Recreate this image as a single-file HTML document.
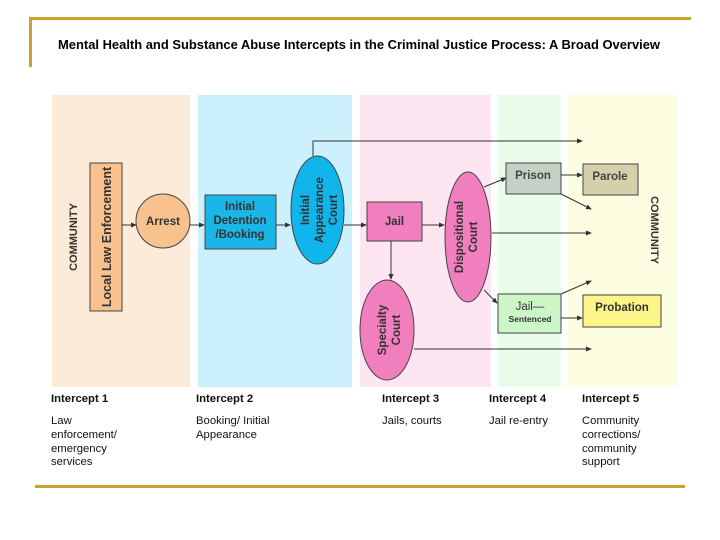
<!DOCTYPE html>
<html><head><meta charset="utf-8"><style>
html,body{margin:0;padding:0;background:#fff;}
svg{display:block;font-family:"Liberation Sans",Arial,sans-serif;}
</style></head><body>
<svg width="720" height="540" viewBox="0 0 720 540" xmlns="http://www.w3.org/2000/svg">
<defs><marker id="a" markerWidth="6" markerHeight="6" refX="5" refY="3" orient="auto" markerUnits="userSpaceOnUse"><path d="M0,0.5 L6,3 L0,5.5z" fill="#333"/></marker></defs>
<rect x="29" y="17" width="662" height="3" fill="#c8a42e"/>
<rect x="29" y="17" width="3" height="50" fill="#c8a42e"/>
<rect x="35" y="485" width="650" height="3" fill="#c8a42e"/>
<text x="58" y="49" font-size="13" font-weight="bold" fill="#000" textLength="602" lengthAdjust="spacingAndGlyphs">Mental Health and Substance Abuse Intercepts in the Criminal Justice Process: A Broad Overview</text>
<rect x="52" y="95" width="138" height="292" fill="#fdebd9"/>
<rect x="198" y="95" width="154" height="292" fill="#ccf1fc"/>
<rect x="360" y="95" width="131" height="292" fill="#fde6f1"/>
<rect x="498" y="95" width="63" height="292" fill="#e9fbe9"/>
<rect x="568" y="95" width="109" height="292" fill="#fdfde1"/>
<g stroke="#333" stroke-width="1" fill="none">
<line x1="122" y1="225" x2="136" y2="225" marker-end="url(#a)"/>
<line x1="190" y1="225" x2="204" y2="225" marker-end="url(#a)"/>
<line x1="276" y1="225" x2="290" y2="225" marker-end="url(#a)"/>
<line x1="344" y1="225" x2="366" y2="225" marker-end="url(#a)"/>
<polyline points="313,156 313,141 582,141" marker-end="url(#a)"/>
<line x1="422" y1="225" x2="444" y2="225" marker-end="url(#a)"/>
<line x1="391" y1="241" x2="391" y2="279" marker-end="url(#a)"/>
<line x1="414" y1="349" x2="591" y2="349" marker-end="url(#a)"/>
<line x1="492" y1="233" x2="591" y2="233" marker-end="url(#a)"/>
<line x1="484" y1="187" x2="506" y2="178" marker-end="url(#a)"/>
<line x1="484" y1="290" x2="497" y2="303" marker-end="url(#a)"/>
<line x1="561" y1="175" x2="582" y2="175" marker-end="url(#a)"/>
<line x1="561" y1="194" x2="591" y2="209" marker-end="url(#a)"/>
<line x1="561" y1="294" x2="591" y2="281" marker-end="url(#a)"/>
<line x1="561" y1="318" x2="582" y2="318" marker-end="url(#a)"/>
</g>
<g stroke="#444" stroke-width="1">
<rect x="90" y="163" width="32" height="148" fill="#f9c18e"/>
<circle cx="163" cy="221" r="27" fill="#f9c18e"/>
<rect x="205" y="195" width="71" height="54" fill="#1ab6e8"/>
<ellipse cx="317.5" cy="210" rx="26.5" ry="54" fill="#10b5ec"/>
<rect x="367" y="202" width="55" height="39" fill="#f27fbd"/>
<ellipse cx="468" cy="237" rx="23" ry="65" fill="#f27fbd"/>
<ellipse cx="387" cy="330" rx="27" ry="50" fill="#f27fbd"/>
<rect x="506" y="163" width="55" height="31" fill="#c6d1c5"/>
<rect x="583" y="164" width="55" height="31" fill="#d6cfab"/>
<rect x="498" y="294" width="63" height="39" fill="#ccf6c8"/>
<rect x="583" y="295" width="78" height="32" fill="#fbf58a"/>
</g>
<g font-weight="bold" fill="#333" text-anchor="middle">
<text transform="translate(111,237) rotate(-90)" font-size="12.5">Local Law Enforcement</text>
<text transform="translate(77,237) rotate(-90)" font-size="11">COMMUNITY</text>
<text x="163" y="225" font-size="11.5">Arrest</text>
<text x="240" y="210" font-size="11.5">Initial</text>
<text x="240" y="224" font-size="11.5">Detention</text>
<text x="240" y="238" font-size="11.5">/Booking</text>
<text transform="translate(309,210) rotate(-90)" font-size="11.5">Initial</text>
<text transform="translate(323,210) rotate(-90)" font-size="11.5">Appearance</text>
<text transform="translate(337,210) rotate(-90)" font-size="11.5">Court</text>
<text x="394.5" y="225" font-size="11.5">Jail</text>
<text transform="translate(463,237) rotate(-90)" font-size="11.5">Dispositional</text>
<text transform="translate(477,237) rotate(-90)" font-size="11.5">Court</text>
<text transform="translate(386,330) rotate(-90)" font-size="11.5">Specialty</text>
<text transform="translate(400,330) rotate(-90)" font-size="11.5">Court</text>
<text x="533" y="179" font-size="11.5" fill="#444">Prison</text>
<text x="610" y="180" font-size="11.5" fill="#444">Parole</text>
<text x="530" y="310" font-size="11.5" font-weight="normal" fill="#333">Jail—</text>
<text x="530" y="322" font-size="8.5" fill="#333">Sentenced</text>
<text x="622" y="311" font-size="11.5">Probation</text>
<text transform="translate(651,230) rotate(90)" font-size="11">COMMUNITY</text>
</g>
<g font-size="11.3" fill="#111">
<g font-weight="bold">
<text x="51" y="402">Intercept 1</text>
<text x="196" y="402">Intercept 2</text>
<text x="382" y="402">Intercept 3</text>
<text x="489" y="402">Intercept 4</text>
<text x="582" y="402">Intercept 5</text>
</g>
<text x="51" y="424">Law</text>
<text x="51" y="438">enforcement/</text>
<text x="51" y="452">emergency</text>
<text x="51" y="465">services</text>
<text x="196" y="424">Booking/ Initial</text>
<text x="196" y="438">Appearance</text>
<text x="382" y="424">Jails, courts</text>
<text x="489" y="424">Jail re-entry</text>
<text x="582" y="424">Community</text>
<text x="582" y="438">corrections/</text>
<text x="582" y="452">community</text>
<text x="582" y="465">support</text>
</g>
</svg>
</body></html>
